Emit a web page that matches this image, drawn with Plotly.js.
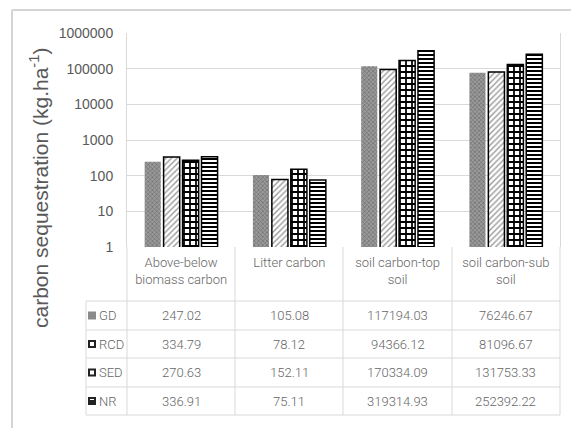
<!DOCTYPE html>
<html>
<head>
<meta charset="utf-8">
<script src="https://cdn.plot.ly/plotly-3.0.1.min.js"></script>
<style>html,body{margin:0;padding:0;background:#fff;}#chart{width:571px;height:428px;}</style>
</head>
<body>
<div id="chart"></div>
<script>
// ---- data ----
const categories = ['Above-below biomass carbon', 'Litter carbon', 'soil carbon-top soil', 'soil carbon-sub soil'];
const categoryLabels = ['Above-below<br>biomass carbon', 'Litter carbon', 'soil carbon-top<br>soil', 'soil carbon-sub<br>soil'];
const seriesNames = ['GD', 'RCD', 'SED', 'NR'];
const GD  = [247.02, 105.08, 117194.03, 76246.67];
const RCD = [334.79, 78.12, 94366.12, 81096.67];
const SED = [270.63, 152.11, 170334.09, 131753.33];
const NR  = [336.91, 75.11, 319314.93, 252392.22];
const tickVals = [1, 10, 100, 1000, 10000, 100000, 1000000];
const tickLabels = ['1', '10', '100', '1000', '10000', '100000', '1000000'];
const yTitle = 'carbon sequestration (kg.ha<sup>-1</sup>)';

const seriesValues = [GD, RCD, SED, NR];

// ---- geometry helpers (plot area in px) ----
const W = 571, H = 428;
const PL = 127, PR = 560, PT = 33, PB = 247;
const px2x = p => (p - PL) / (PR - PL);
const px2y = p => (PB - p) / (PB - PT);

const gray = '#595959';
const tableGray = '#666666';
const lineGray = '#d9d9d9';
const tableFont = 'Roboto, "Liberation Sans", sans-serif';
const regular = '"Liberation Sans", Arial, sans-serif';

const styles = [
  {color: '#8a8a8a', line: {width: 0}, pattern: {shape: 'x', fgcolor: '#6e6e6e', bgcolor: '#9a9a9a', size: 3, solidity: 0.4}},
  {color: '#ffffff', line: {color: '#000', width: 1.5}, pattern: {shape: '/', fgcolor: '#9a9a9a', bgcolor: '#ffffff', size: 4, solidity: 0.35}},
  {color: '#ffffff', line: {color: '#000', width: 1.5}, pattern: {shape: '+', fgcolor: '#000', bgcolor: '#ffffff', size: 6, solidity: 0.5}},
  {color: '#ffffff', line: {color: '#000', width: 1.5}, pattern: {shape: '-', fgcolor: '#000', bgcolor: '#ffffff', size: 4, solidity: 0.5}}
];

const traces = seriesNames.map((name, i) => ({
  type: 'bar',
  name: name,
  x: categories,
  y: seriesValues[i],
  marker: styles[i],
  showlegend: false,
  hoverinfo: 'x+y+name'
}));

// ---- table (shapes + annotations) ----
const shapes = [];
const annotations = [];
const lineStyle = {color: lineGray, width: 1};
const colEdges = [PL, 235, 343, 452, PR];
const rowEdges = [301, 330, 358, 387, 415];
const tableBottom = rowEdges[rowEdges.length - 1];
rowEdges.forEach(r => shapes.push({type: 'line', xref: 'paper', yref: 'paper', x0: px2x(86), x1: px2x(PR), y0: px2y(r), y1: px2y(r), line: lineStyle}));
colEdges.forEach(c => shapes.push({type: 'line', xref: 'paper', yref: 'paper', x0: px2x(c), x1: px2x(c), y0: px2y(PB), y1: px2y(tableBottom), line: lineStyle}));
shapes.push({type: 'line', xref: 'paper', yref: 'paper', x0: px2x(86), x1: px2x(86), y0: px2y(rowEdges[0]), y1: px2y(tableBottom), line: lineStyle});
// outer frame (left + top)
shapes.push({type: 'line', xref: 'paper', yref: 'paper', x0: px2x(12), x1: px2x(12), y0: px2y(10), y1: px2y(430), line: {color: '#d4d4d4', width: 2}});
shapes.push({type: 'line', xref: 'paper', yref: 'paper', x0: px2x(12), x1: px2x(575), y0: px2y(10), y1: px2y(10), line: {color: '#d4d4d4', width: 2}});

const iconFill = ['#8a8a8a', '#222', '#222', '#222'];
seriesNames.forEach((name, i) => {
  const cy = (rowEdges[i] + rowEdges[i + 1]) / 2;
  shapes.push({type: 'rect', xref: 'paper', yref: 'paper', x0: px2x(88), x1: px2x(96), y0: px2y(cy - 4), y1: px2y(cy + 4), fillcolor: iconFill[i], line: {width: 0}});
  if (i > 0) shapes.push({type: 'rect', xref: 'paper', yref: 'paper', x0: px2x(90), x1: px2x(94), y0: px2y(cy - 2), y1: px2y(cy + (i === 3 ? -1 : 2)), fillcolor: '#fff', line: {width: 0}});
  annotations.push({xref: 'paper', yref: 'paper', x: px2x(97), y: px2y(cy), xanchor: 'left', yanchor: 'middle', text: name, showarrow: false, font: {family: tableFont, size: 13, weight: 300, color: tableGray}});
  seriesValues[i].forEach((v, j) => {
    annotations.push({xref: 'x', yref: 'paper', x: categories[j], y: px2y(cy), xanchor: 'center', yanchor: 'middle', text: v.toFixed(2), showarrow: false, font: {family: tableFont, size: 13, weight: 300, color: tableGray}});
  });
});

// y-axis title, centred where the reference draws it
annotations.push({xref: 'paper', yref: 'paper', x: px2x(39), y: px2y(188), xanchor: 'center', yanchor: 'middle', textangle: -90, text: yTitle, showarrow: false, font: {family: regular, size: 21, color: gray}});

const layout = {
  width: W, height: H,
  margin: {l: PL, r: W - PR, t: PT, b: H - PB, pad: 0},
  paper_bgcolor: '#fff', plot_bgcolor: '#fff',
  barmode: 'group', bargap: 0.3, bargroupgap: 0.15,
  xaxis: {
    type: 'category', tickvals: categories, ticktext: categoryLabels,
    tickfont: {family: tableFont, size: 13, weight: 300, color: tableGray},
    showgrid: false, zeroline: false, showline: false, ticks: '', ticklabelstandoff: 6,
    fixedrange: true
  },
  yaxis: {
    type: 'log', range: [0, 6], tickvals: tickVals, ticktext: tickLabels,
    tickfont: {family: regular, size: 14, color: gray},
    showgrid: true, gridcolor: lineGray, gridwidth: 1,
    showline: true, linecolor: lineGray, linewidth: 1, mirror: true,
    ticks: '', ticklabelstandoff: 10, zeroline: false,
    fixedrange: true
  },
  shapes: shapes,
  annotations: annotations,
  showlegend: false
};

Plotly.newPlot('chart', traces, layout, {displayModeBar: false, staticPlot: true});
</script>
</body>
</html>
